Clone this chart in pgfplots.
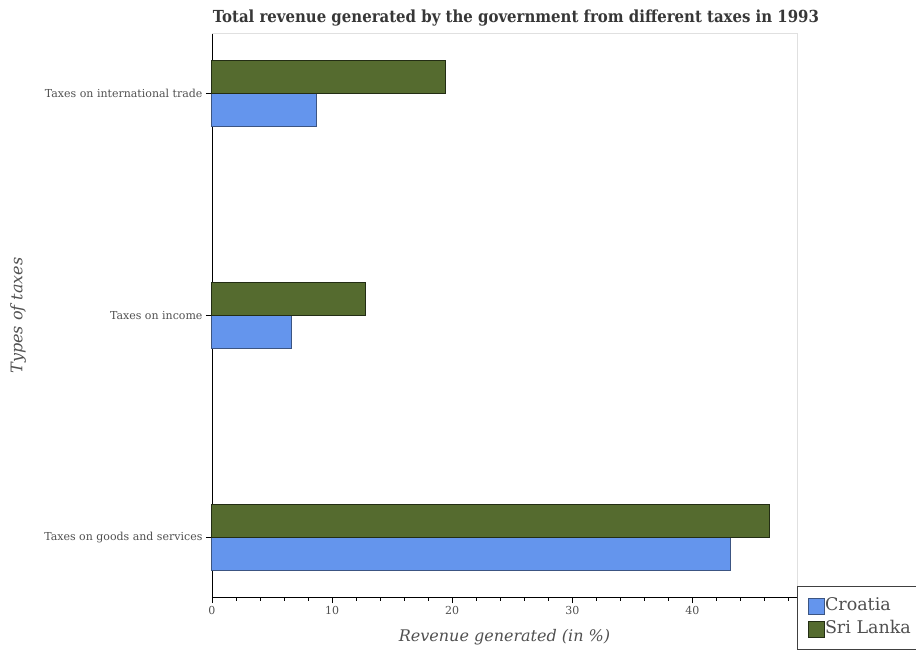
\documentclass[border=0pt]{standalone}
\usepackage{pgfplots}
\pgfplotsset{compat=1.18}
\usepackage{fontspec}
\setmainfont{DejaVu Serif}
\newfontfamily\titlefont{DejaVu Serif Condensed}
\definecolor{croatia}{RGB}{100,149,237}
\definecolor{croatiaedge}{RGB}{60,85,130}
\definecolor{srilanka}{RGB}{85,107,47}
\definecolor{srilankaedge}{RGB}{35,45,20}
\definecolor{txt}{RGB}{80,80,80}
\definecolor{ttl}{RGB}{55,55,55}
\begin{document}
\begin{tikzpicture}
\begin{axis}[
  at={(0,0)}, anchor=south west,
  scale only axis, width=585bp, height=563bp,
  xmin=0, xmax=48.7, ymin=-0.27, ymax=2.266,
  xbar, bar width=33bp,
  axis x line*=bottom, axis y line*=left,
  axis line style={black, line width=0.9bp},
  xtick={0,10,20,30,40}, minor xtick={2,4,...,48},
  ytick={0,1,2},
  yticklabels={Taxes on goods and services, Taxes on income, Taxes on international trade},
  tick align=outside, major tick length=6bp, minor tick length=3.5bp,
  tick style={black, line width=0.8bp},
  ticklabel style={font=\fontsize{11bp}{13bp}\selectfont, text=txt},
  /pgf/number format/assume math mode=true,
  legend style={at={(1.0,0.0195)}, anchor=north west, draw=black!75, line width=0.8bp,
    inner xsep=11bp, inner ysep=11bp, fill=white, row sep=6.5bp,
    font=\fontsize{17.5bp}{21bp}\selectfont, text=txt,
    nodes={inner sep=0bp, text height=13bp, text depth=4bp},
    /tikz/every even column/.append style={column sep=2bp}},
  legend cell align=left,
  legend image code/.code={\draw[#1, line width=0.6bp] (0bp,-8bp) rectangle (16bp,8bp);},
  clip=false,
]
\addplot[fill=croatia, draw=croatiaedge, line width=1bp, bar shift=-16.5bp] coordinates {(43.2,0) (6.6,1) (8.7,2)};
\addplot[fill=srilanka, draw=srilankaedge, line width=1bp, bar shift=16.5bp] coordinates {(46.4,0) (12.8,1) (19.4,2)};
\legend{Croatia, Sri Lanka}
\draw[black!12, line width=1bp] (rel axis cs:0,1) -- (rel axis cs:1,1) -- (rel axis cs:1,0);
\end{axis}
\node[font=\titlefont\bfseries\fontsize{16.6bp}{19bp}\selectfont, text=ttl] at (304bp,579bp) {Total revenue generated by the government from different taxes in 1993};
\node[font=\itshape\fontsize{16bp}{19bp}\selectfont, text=txt] at (292.5bp,-40bp) {Revenue generated (in \%)};
\node[font=\itshape\fontsize{16bp}{19bp}\selectfont, text=txt, rotate=90] at (-194bp,281.5bp) {Types of taxes};
\pgfresetboundingbox
\path[use as bounding box] (-212bp,-53bp) rectangle (704bp,597bp);
\end{tikzpicture}
\end{document}
